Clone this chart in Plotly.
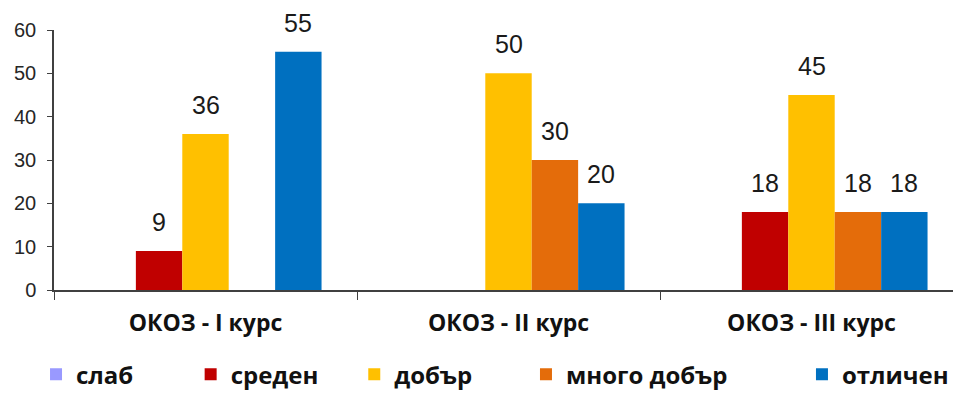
import plotly.graph_objects as go

# Categories (courses) and grade distribution per course, %
categories = ["ОКОЗ - I курс", "ОКОЗ - II курс", "ОКОЗ - III курс"]
grades = ["слаб", "среден", "добър", "много добър", "отличен"]
slab = [0, 0, 0]
sreden = [9, 0, 18]
dobar = [36, 50, 45]
mnogo_dobar = [0, 30, 18]
otlichen = [55, 20, 18]
y_ticks = [0, 10, 20, 30, 40, 50, 60]

series = [slab, sreden, dobar, mnogo_dobar, otlichen]
colors = ["#9999FF", "#C00000", "#FFC000", "#E46C0A", "#0070C0"]

BARGAP = 0.234
# legend anchor positions (paper x) for each grade
legend_x = [-0.02, 0.152, 0.334, 0.525, 0.832]

fig = go.Figure()
legend_names = ["legend", "legend2", "legend3", "legend4", "legend5"]
for i, (name, vals, col) in enumerate(zip(grades, series, colors)):
    fig.add_trace(go.Bar(
        name=name, x=categories, y=vals,
        marker=dict(color=col, line=dict(width=0)),
        legend=legend_names[i],
    ))

# value labels above non-zero bars
n = len(series)
slot = (1 - BARGAP) / n
annotations = []
for i, vals in enumerate(series):
    for c, v in enumerate(vals):
        if v:
            annotations.append(dict(
                x=c + (i - (n - 1) / 2) * slot, y=v, xref="x", yref="y",
                text=str(v), showarrow=False, yanchor="bottom", yshift=13,
                font=dict(family="Arial", size=25, color="#1a1a1a"),
            ))

legend_common = dict(
    orientation="h", y=-0.326, yanchor="middle", xanchor="left",
    font=dict(family="Open Sans", size=24, color="#111111", weight="bold"),
    bgcolor="rgba(0,0,0,0)", borderwidth=0,
)
layout_legends = {}
for ln, lx in zip(legend_names, legend_x):
    layout_legends[ln] = dict(legend_common, x=lx)

fig.update_layout(
    barmode="group", bargap=BARGAP, bargroupgap=0,
    width=953, height=393,
    margin=dict(l=54, r=0, t=30, b=103, autoexpand=False),
    paper_bgcolor="white", plot_bgcolor="white",
    showlegend=True,
    annotations=annotations,
    xaxis=dict(
        type="category", range=[-0.5, 2.467],
        showline=True, linecolor="#404040", linewidth=1.5,
        ticks="outside", tickson="boundaries", ticklen=8, tickcolor="#404040",
        ticklabelstandoff=12,
        tickfont=dict(family="Open Sans", size=23, color="#111111", weight="bold"),
        showgrid=False,
    ),
    yaxis=dict(
        range=[0, 60], tickvals=y_ticks,
        showline=True, linecolor="#404040", linewidth=1.5,
        ticks="outside", ticklen=5, tickcolor="#404040",
        ticklabelstandoff=7,
        tickfont=dict(family="Arial", size=20, color="#262626"),
        showgrid=False, zeroline=False,
    ),
    **layout_legends,
)

fig.write_html("out.html")
